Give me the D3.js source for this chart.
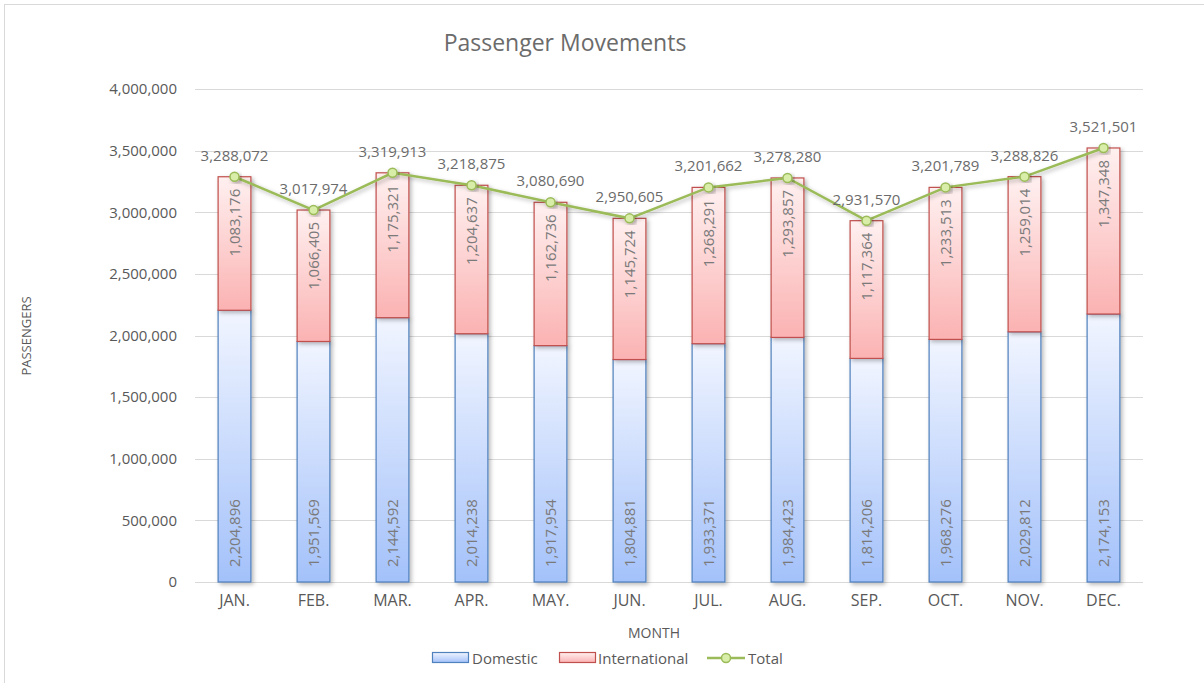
<!DOCTYPE html>
<html>
<head>
<meta charset="utf-8">
<script src="https://cdn.jsdelivr.net/npm/d3@7"></script>
<style>
  html, body { margin: 0; padding: 0; background: #fff; }
  svg text { font-family: "Open Sans", "Liberation Sans", sans-serif; fill: #595959; }
</style>
</head>
<body>
<svg id="chart" width="1204" height="683"></svg>
<script>
// Monthly passenger movements
const months = ["JAN.", "FEB.", "MAR.", "APR.", "MAY.", "JUN.", "JUL.", "AUG.", "SEP.", "OCT.", "NOV.", "DEC."];
const domestic = [2204896, 1951569, 2144592, 2014238, 1917954, 1804881, 1933371, 1984423, 1814206, 1968276, 2029812, 2174153];
const international = [1083176, 1066405, 1175321, 1204637, 1162736, 1145724, 1268291, 1293857, 1117364, 1233513, 1259014, 1347348];
const total = [3288072, 3017974, 3319913, 3218875, 3080690, 2950605, 3201662, 3278280, 2931570, 3201789, 3288826, 3521501];
const yTicks = [0, 500000, 1000000, 1500000, 2000000, 2500000, 3000000, 3500000, 4000000];

const svg = d3.select("#chart");
const fmt = d3.format(",");

const plot = { left: 195, right: 1143, top: 89, bottom: 582 };

const x = d3.scaleBand().domain(months).range([plot.left, plot.right]).paddingInner(0.585).paddingOuter(0.2925);
const y = d3.scaleLinear().domain([0, 4000000]).range([plot.bottom, plot.top]);

const defs = svg.append("defs");
const gradBlue = defs.append("linearGradient").attr("id", "gDom").attr("x1", 0).attr("y1", 0).attr("x2", 0).attr("y2", 1);
gradBlue.append("stop").attr("offset", "0%").attr("stop-color", "#f1f5ff");
gradBlue.append("stop").attr("offset", "100%").attr("stop-color", "#a3c1fa");
const gradRed = defs.append("linearGradient").attr("id", "gInt").attr("x1", 0).attr("y1", 0).attr("x2", 0).attr("y2", 1);
gradRed.append("stop").attr("offset", "0%").attr("stop-color", "#fff0f0");
gradRed.append("stop").attr("offset", "100%").attr("stop-color", "#fbb2b2");
const shadow = defs.append("filter").attr("id", "shadow").attr("x", "-30%").attr("y", "-10%").attr("width", "160%").attr("height", "130%");
shadow.append("feDropShadow").attr("dx", 2).attr("dy", 2).attr("stdDeviation", 2).attr("flood-color", "#000").attr("flood-opacity", 0.28);

// chart frame
svg.append("rect").attr("x", 4.5).attr("y", 4.5).attr("width", 1240).attr("height", 700)
  .attr("fill", "none").attr("stroke", "#d9d9d9");

// title
svg.append("text").attr("x", 565).attr("y", 51).attr("text-anchor", "middle")
  .style("font-size", "23px").style("fill", "#6b6b6b").text("Passenger Movements");

// gridlines
svg.append("g").selectAll("line").data(yTicks).join("line")
  .attr("x1", plot.left).attr("x2", plot.right)
  .attr("y1", d => Math.round(y(d)) + 0.5).attr("y2", d => Math.round(y(d)) + 0.5)
  .attr("stroke", "#d9d9d9").attr("stroke-width", 1);

// y axis labels
const yAxis = d3.axisLeft(y).tickValues(yTicks).tickFormat(d => d === 0 ? "0" : fmt(d)).tickSize(0).tickPadding(18);
const gy = svg.append("g").attr("transform", `translate(${plot.left},0)`).call(yAxis);
gy.select(".domain").remove();
gy.selectAll("text").style("font-size", "15px").style("fill", "#595959").style("font-family", "Open Sans");

// x axis
const xAxis = d3.axisBottom(x).tickSize(0).tickPadding(13);
const gx = svg.append("g").attr("transform", `translate(0,${plot.bottom})`).call(xAxis);
gx.select(".domain").attr("stroke", "#d9d9d9").attr("d", `M${plot.left},0.5H${plot.right}`);
gx.selectAll("text").style("font-size", "16px").style("fill", "#595959").style("font-family", "Open Sans");

// axis titles
svg.append("text").attr("transform", "translate(31,336) rotate(-90)").attr("text-anchor", "middle")
  .style("font-size", "13px").text("PASSENGERS");
svg.append("text").attr("x", 654).attr("y", 638).attr("text-anchor", "middle")
  .style("font-size", "14px").text("MONTH");

// stacked bars
const rows = months.map((m, i) => ({ m, dom: domestic[i], intl: international[i], tot: total[i] }));
const bars = svg.append("g");
bars.selectAll("rect.dom").data(rows).join("rect").attr("class", "dom")
  .attr("x", d => x(d.m)).attr("width", x.bandwidth())
  .attr("y", d => y(d.dom)).attr("height", d => y(0) - y(d.dom))
  .attr("fill", "url(#gDom)").attr("stroke", "#4f81bd").attr("stroke-width", 1.2)
  .attr("filter", "url(#shadow)");
bars.selectAll("rect.intl").data(rows).join("rect").attr("class", "intl")
  .attr("x", d => x(d.m)).attr("width", x.bandwidth())
  .attr("y", d => y(d.dom + d.intl)).attr("height", d => y(d.dom) - y(d.dom + d.intl))
  .attr("fill", "url(#gInt)").attr("stroke", "#c0504d").attr("stroke-width", 1.2)
  .attr("filter", "url(#shadow)");

// segment value labels (rotated)
const cx = d => x(d.m) + x.bandwidth() / 2;
svg.append("g").selectAll("text").data(rows).join("text")
  .attr("transform", d => `translate(${cx(d) + 5.5},${y(0) - 15}) rotate(-90)`)
  .attr("text-anchor", "start").style("font-size", "15px").style("fill", "#7a7a7a")
  .text(d => fmt(d.dom));
svg.append("g").selectAll("text").data(rows).join("text")
  .attr("transform", d => `translate(${cx(d) + 5.5},${y(d.dom + d.intl) + 12}) rotate(-90)`)
  .attr("text-anchor", "end").style("font-size", "15px").style("fill", "#7a7a7a")
  .text(d => fmt(d.intl));

// total line
const line = d3.line().x(d => cx(d)).y(d => y(d.tot));
svg.append("path").datum(rows).attr("d", line).attr("fill", "none")
  .attr("stroke", "#9bbb59").attr("stroke-width", 2.5).attr("filter", "url(#shadow)");
svg.append("g").selectAll("circle").data(rows).join("circle")
  .attr("cx", cx).attr("cy", d => y(d.tot)).attr("r", 4.5)
  .attr("fill", "#d7eda8").attr("stroke", "#9bbb59").attr("stroke-width", 1.5)
  .attr("filter", "url(#shadow)");
svg.append("g").selectAll("text").data(rows).join("text")
  .attr("x", cx).attr("y", d => y(d.tot) - 16).attr("text-anchor", "middle")
  .style("font-size", "15px").style("fill", "#6b6b6b").text(d => fmt(d.tot));

// legend
const lg = svg.append("g").attr("transform", "translate(0,658)");
lg.append("rect").attr("x", 432.5).attr("y", -5.5).attr("width", 36).attr("height", 10)
  .attr("fill", "url(#gDom)").attr("stroke", "#4f81bd").attr("stroke-width", 1.2);
lg.append("text").attr("x", 472).attr("y", 5.5).style("font-size", "15px").text("Domestic");
lg.append("rect").attr("x", 559.5).attr("y", -5.5).attr("width", 36).attr("height", 10)
  .attr("fill", "url(#gInt)").attr("stroke", "#c0504d").attr("stroke-width", 1.2);
lg.append("text").attr("x", 598).attr("y", 5.5).style("font-size", "15px").text("International");
lg.append("line").attr("x1", 707).attr("x2", 745).attr("y1", 0).attr("y2", 0)
  .attr("stroke", "#9bbb59").attr("stroke-width", 2.5);
lg.append("circle").attr("cx", 726).attr("cy", 0).attr("r", 4.5)
  .attr("fill", "#d7eda8").attr("stroke", "#9bbb59").attr("stroke-width", 1.5);
lg.append("text").attr("x", 748).attr("y", 5.5).style("font-size", "15px").text("Total");
</script>
</body>
</html>
